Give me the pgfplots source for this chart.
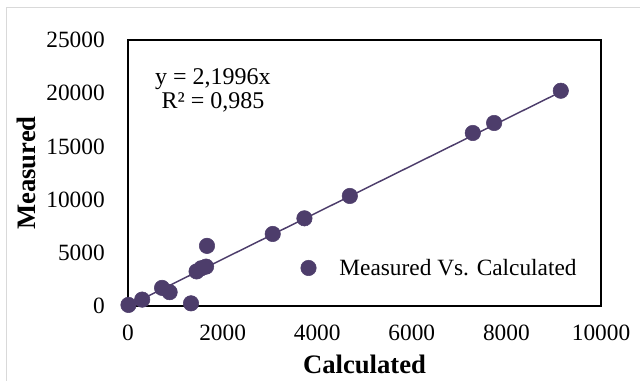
\documentclass[border=0pt]{standalone}
\usepackage{fontspec}
\setmainfont{Liberation Serif}
\usepackage{pgfplots}
\pgfplotsset{compat=1.18}
\definecolor{pt}{RGB}{77,61,107}
\begin{document}
\begin{tikzpicture}
\begin{axis}[name=ax, scale only axis, width=354.75pt, height=199.5pt,
  xmin=0, xmax=10000, ymin=0, ymax=25000,
  xtick={0,2000,...,10000}, ytick={0,5000,...,25000},
  major tick length=0pt,
  /pgf/number format/assume math mode=true,
  /pgf/number format/set thousands separator={},
  scaled ticks=false,
  clip=false,
  tick label style={font=\fontsize{17.5}{20}\selectfont, inner sep=0pt},
  yticklabel style={anchor=east, xshift=-17.25pt},
  xticklabel style={anchor=center, yshift=-20.25pt},
  axis line style={line width=1.2pt},
  xlabel={Calculated}, ylabel={Measured},
  label style={font=\fontsize{20}{24}\selectfont\bfseries},
  xlabel style={at={(axis description cs:0.5,-0.2206)}, anchor=center},
  ylabel style={at={(axis description cs:-0.2142,0.5)}, anchor=center},
  legend style={draw=none, fill=none, inner sep=0pt, at={(rel axis cs:0.3636,0.143)}, anchor=west,
    font=\fontsize{17.5}{20}\selectfont, nodes={inner sep=0pt}},
  legend image code/.code={\draw[#1] plot coordinates {(6pt,0pt)}; \path (0pt,0pt) (29pt,0pt);},
]
\addplot[pt, line width=1.1pt, no marks, forget plot] coordinates {(0,0) (9150,20126)};
\addplot[only marks, mark=*, mark size=5.8pt, mark options={fill=pt, draw=pt}] coordinates {
(10,100) (300,600) (720,1700) (880,1300) (1332,250)
(1450,3250) (1550,3550) (1650,3700) (1670,5650)
(3060,6770) (3730,8240) (4690,10340) (7290,16260) (7740,17200) (9150,20230)
};
\addlegendentry{Measured Vs. Calculated}
\node[align=center, font=\fontsize{18}{18.3}\selectfont, inner sep=0pt] at (axis cs:1797,20250) {y = 2,1996x\\R² = 0,985};
\end{axis}
\draw[overlay, gray!30, line width=0.75pt] ([shift={(-90.75pt,-56.25pt)}]ax.south west) |- ([shift={(29.25pt,24pt)}]ax.north east);
\path ([shift={(-96pt,-56.25pt)}]ax.south west) rectangle ([shift={(29.25pt,30pt)}]ax.north east);
\end{tikzpicture}
\end{document}
